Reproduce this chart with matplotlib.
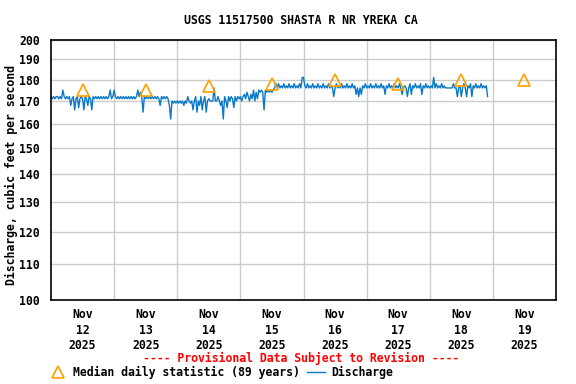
import matplotlib
matplotlib.use("Agg")
import matplotlib.pyplot as plt
from matplotlib.lines import Line2D
import numpy as np

# discharge, cubic feet per second, 30-minute readings starting each day at 00:00
nov12 = [172, 171, 172, 171, 172, 172, 171, 172, 171, 175,
         172, 171, 172, 171, 172, 168, 171, 172, 166, 171,
         172, 167, 171, 172, 171, 166, 172, 171, 168, 172,
         171, 166, 172, 171, 172, 171, 172, 171, 172, 171,
         172, 171, 172, 171, 172, 175, 171, 172]
nov13 = [175, 172, 171, 172, 171, 172, 171, 172, 171, 172,
         171, 172, 171, 172, 171, 172, 171, 172, 175, 172,
         174, 172, 165, 172, 171, 172, 171, 172, 171, 172,
         171, 172, 171, 172, 171, 168, 172, 171, 172, 171,
         172, 171, 168, 162, 170, 169, 170, 169]
nov14 = [170, 169, 170, 169, 170, 168, 170, 169, 172, 170,
         169, 170, 166, 170, 172, 165, 170, 168, 172, 166,
         170, 172, 165, 170, 171, 170, 170, 170, 176, 170,
         170, 172, 170, 168, 170, 162, 172, 170, 167, 172,
         170, 172, 171, 167, 172, 170, 172, 171]
nov15 = [172, 170, 172, 173, 171, 174, 172, 170, 173, 171,
         175, 170, 174, 171, 175, 174, 175, 174, 166, 175,
         174, 175, 174, 175, 174, 175, 176, 178, 176, 178,
         176, 177, 176, 178, 176, 177, 176, 178, 176, 177,
         176, 178, 176, 177, 176, 178, 176, 181]
nov16 = [181, 177, 176, 178, 176, 177, 176, 178, 176, 177,
         176, 178, 176, 177, 176, 178, 176, 177, 176, 178,
         176, 177, 176, 172, 176, 178, 176, 177, 176, 178,
         176, 177, 176, 178, 176, 177, 176, 178, 176, 177,
         173, 176, 172, 176, 173, 177, 176, 178]
nov17 = [176, 177, 176, 178, 176, 177, 176, 178, 176, 177,
         176, 178, 176, 177, 173, 177, 176, 178, 176, 177,
         176, 178, 176, 177, 176, 178, 176, 173, 176, 177,
         176, 172, 176, 178, 173, 177, 176, 178, 176, 177,
         176, 178, 173, 177, 176, 178, 176, 177]
nov18 = [176, 177, 176, 181, 176, 178, 176, 177, 176, 178,
         176, 177, 176, 176, 176, 176, 176, 176, 178, 176,
         176, 172, 176, 177, 172, 176, 178, 176, 172, 177,
         176, 178, 172, 177, 176, 178, 176, 177, 176, 178,
         176, 177, 176, 177, 172]

# median daily statistic (89 years), plotted at noon
median_days = ["2025-11-12", "2025-11-13", "2025-11-14", "2025-11-15",
               "2025-11-16", "2025-11-17", "2025-11-18", "2025-11-19"]
median_vals = [175, 175, 177, 178, 180, 178, 180, 180]

y_ticks = [100, 110, 120, 130, 140, 150, 160, 170, 180, 190, 200]

discharge = np.array(nov12 + nov13 + nov14 + nov15 + nov16 + nov17 + nov18)
t0 = np.datetime64("2025-11-12T00:00")
times = t0 + np.arange(len(discharge)) * np.timedelta64(30, "m")
noon = np.array(median_days, dtype="datetime64[m]") + np.timedelta64(12, "h")
midnights = np.arange(np.datetime64("2025-11-12"), np.datetime64("2025-11-21"),
                      np.timedelta64(1, "D")).astype("datetime64[m]")

plt.rcParams["font.family"] = "DejaVu Sans Mono"
plt.rcParams["font.weight"] = "bold"
plt.rcParams["axes.labelweight"] = "bold"
plt.rcParams["font.size"] = 8.3

blue = "#0a78c8"
orange = "#ffa000"

fig = plt.figure(figsize=(5.76, 3.84), dpi=100)
ax = fig.add_axes([51 / 576, 1 - 300 / 384, 505 / 576, 260 / 384])

ax.plot(times, discharge, color=blue, lw=1.0)
ax.plot(noon, median_vals, linestyle="none", marker="^", ms=8,
        mfc="none", mec=orange, mew=1.2)

ax.set_yscale("log")
ax.set_ylim(100, 200)
ax.set_yticks(y_ticks)
ax.set_yticklabels([str(v) for v in y_ticks])
ax.yaxis.set_minor_locator(matplotlib.ticker.NullLocator())
ax.set_xlim(midnights[0], midnights[-1])

ax.set_xticks(noon)
ax.set_xticklabels(["Nov\n%s\n2025" % d[-2:] for d in median_days], linespacing=1.25)
ax.set_xticks(midnights[1:-1], minor=True)

ax.grid(True, which="major", axis="y", color="#cccccc", lw=1)
ax.grid(True, which="minor", axis="x", color="#cccccc", lw=1)
ax.set_axisbelow(True)
ax.tick_params(which="both", length=0)
ax.tick_params(axis="x", pad=6)
ax.tick_params(axis="y", pad=8)
for s in ax.spines.values():
    s.set_linewidth(1.2)

ax.set_ylabel("Discharge, cubic feet per second")
ax.yaxis.set_label_coords(-0.066, 0.48)
fig.text(0.523, 1 - 20 / 384, "USGS 11517500 SHASTA R NR YREKA CA",
         ha="center", va="center")
fig.text(0.523, 1 - 358 / 384, "---- Provisional Data Subject to Revision ----",
         ha="center", va="center", color="red")

handles = [Line2D([], [], linestyle="none", marker="^", ms=8, mfc="none",
                  mec=orange, mew=1.2),
           Line2D([], [], color=blue, lw=1.0)]
fig.legend(handles, ["Median daily statistic (89 years)", "Discharge"],
           loc="center left", bbox_to_anchor=(0.085, 1 - 372 / 384), ncol=2,
           frameon=False, handlelength=1.6, handletextpad=0.5,
           columnspacing=0.6, borderpad=0, borderaxespad=0)

fig.savefig("out.png", dpi=100)
